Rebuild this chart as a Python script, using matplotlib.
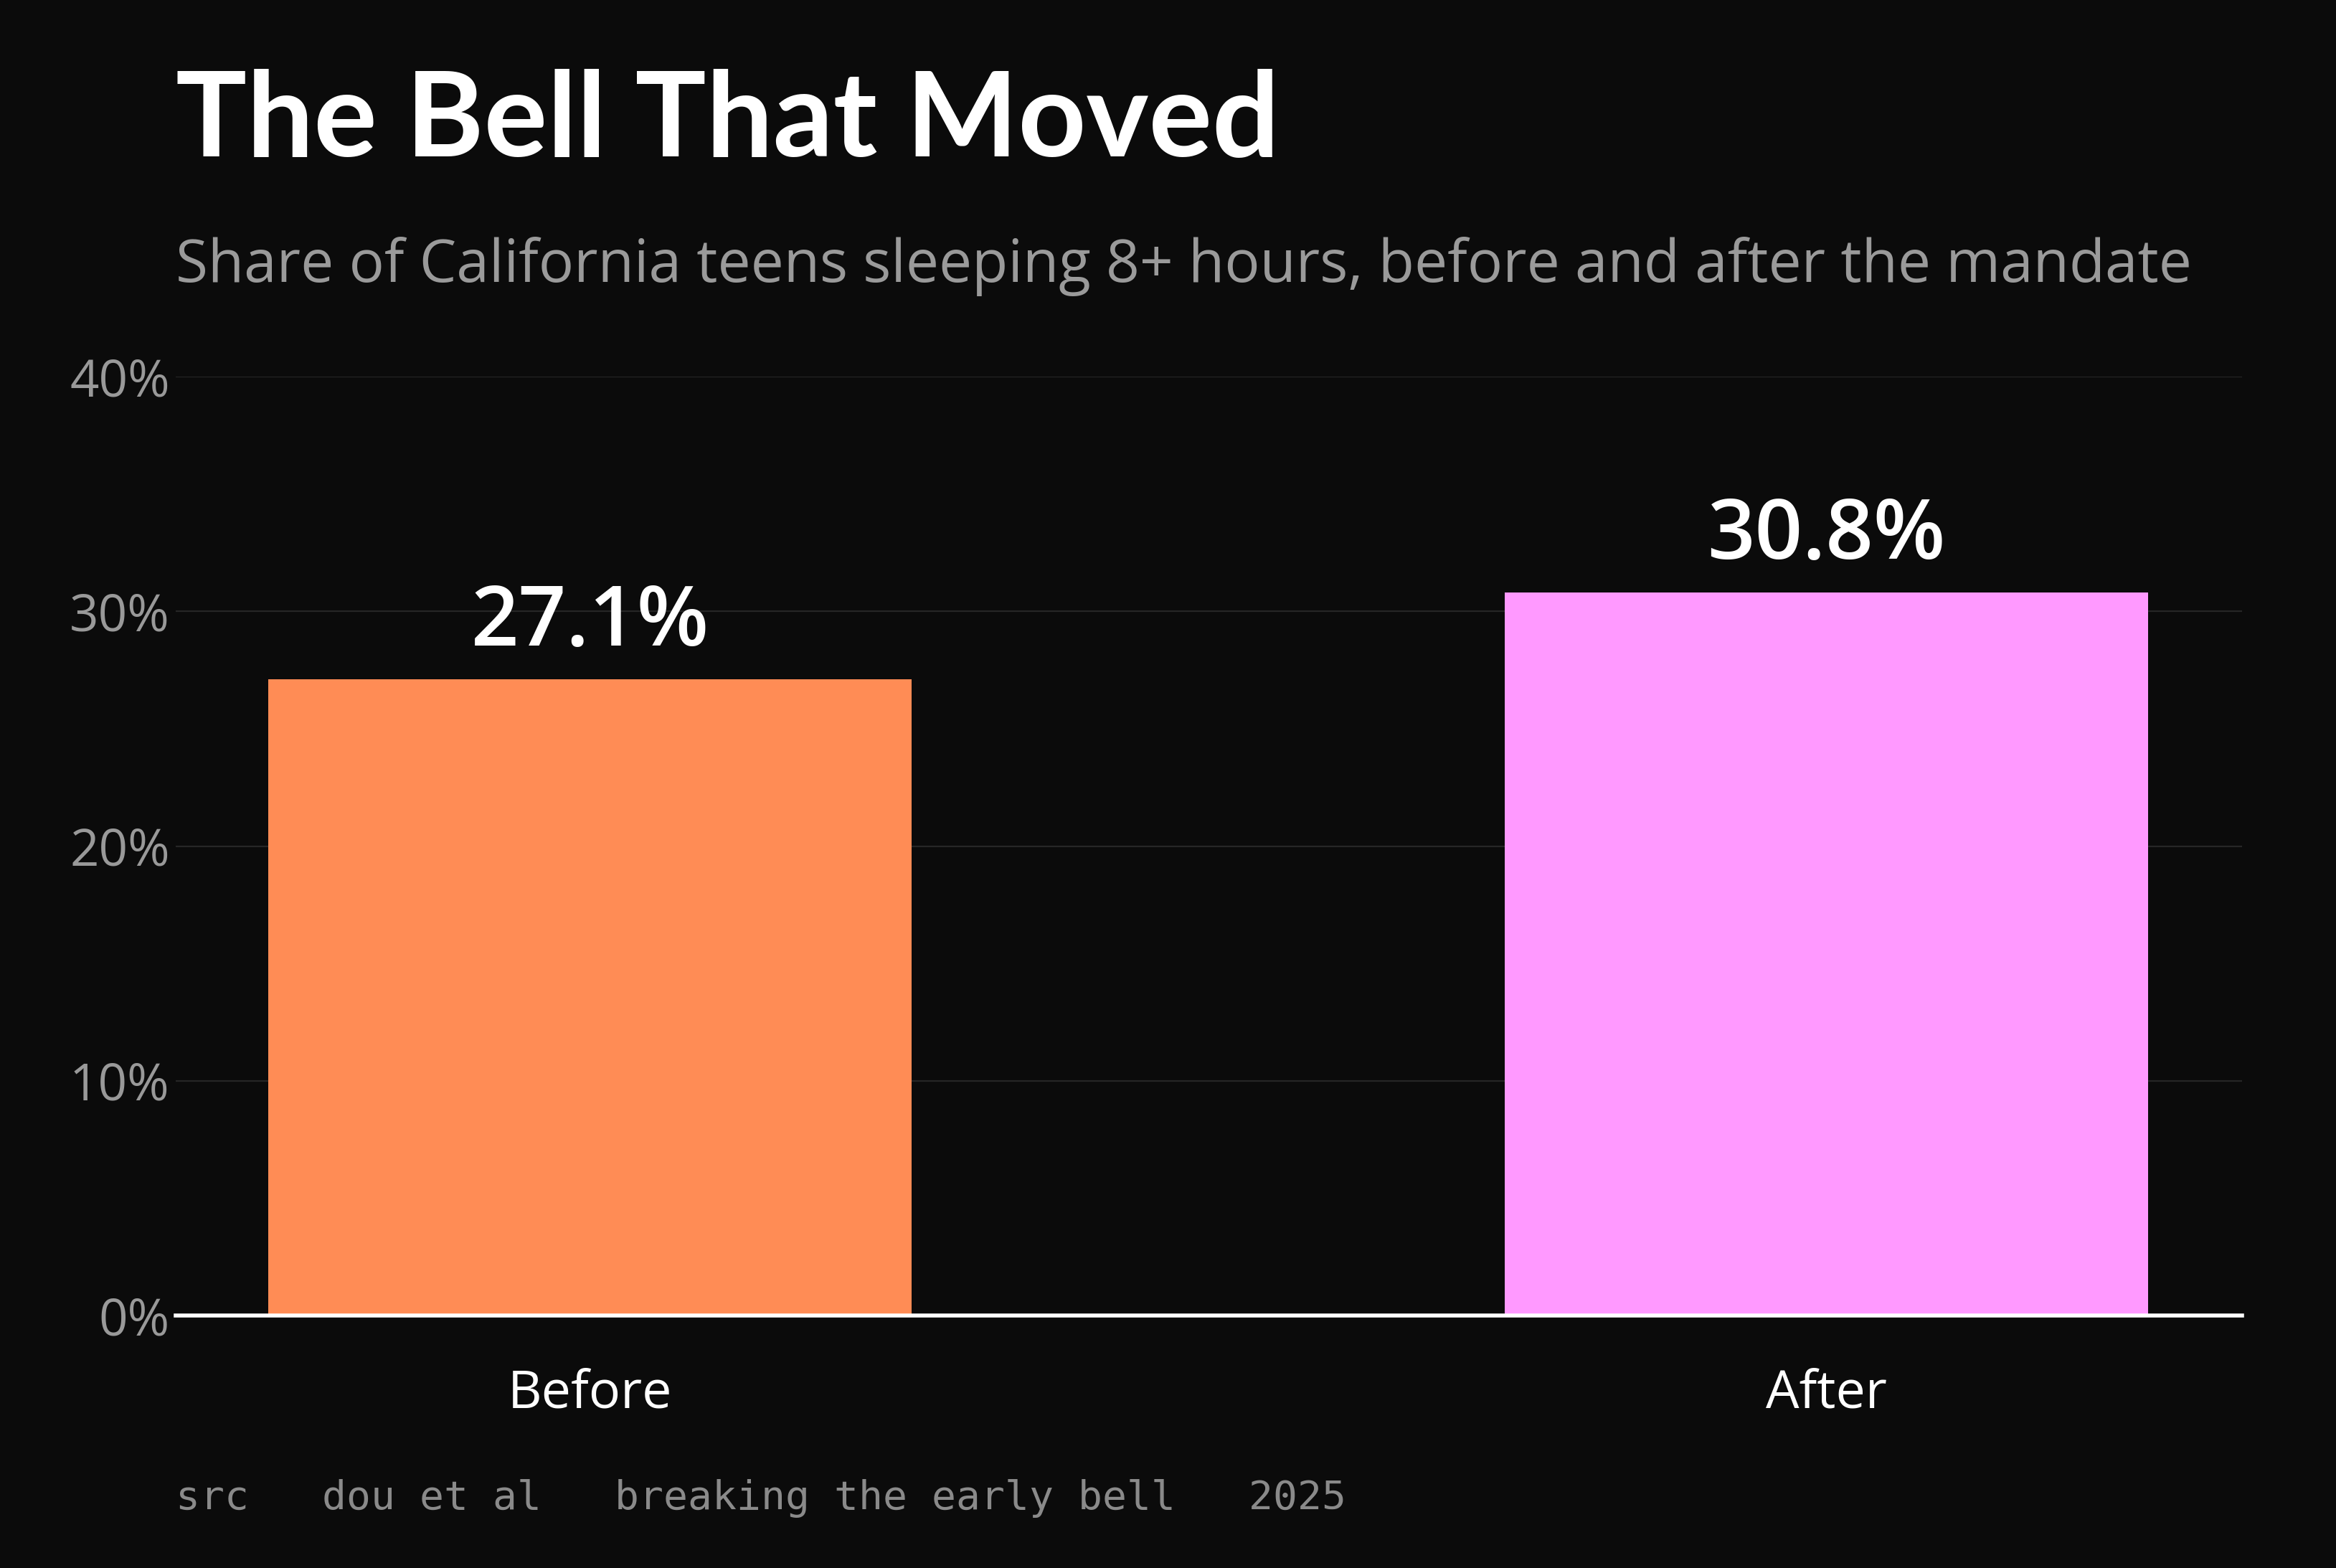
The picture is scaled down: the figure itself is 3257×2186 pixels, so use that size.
import matplotlib
matplotlib.use("Agg")
import matplotlib.pyplot as plt
from matplotlib.ticker import FuncFormatter

categories = ["Before", "After"]
values = [27.1, 30.8]
colors = ["#ff8c55", "#ff99ff"]
yticks = [0, 10, 20, 30, 40]

title = "The Bell That Moved"
subtitle = "Share of California teens sleeping 8+ hours, before and after the mandate"
footer = "src   dou et al   breaking the early bell   2025"

BG = "#0b0b0b"
W, H, DPI = 3257, 2186, 200

fig = plt.figure(figsize=(W / DPI, H / DPI), dpi=DPI, facecolor=BG)
ax = fig.add_axes([245 / W, 1 - 1834 / H, (3126 - 245) / W, (1834 - 525) / H])
ax.set_facecolor(BG)

x = list(range(len(categories)))
ax.bar(x, values, width=0.52, color=colors, zorder=3)
ax.set_xlim(-0.335, 1.336)
ax.set_ylim(0, 40)

ax.set_yticks(yticks)
ax.yaxis.set_major_formatter(FuncFormatter(lambda v, p: f"{v:.0f}%"))
ax.grid(axis="y", color="#262626", linewidth=0.8, zorder=0)
ax.set_axisbelow(True)
ax.tick_params(axis="y", length=0, pad=3, labelsize=25.5, labelcolor="#999999")
ax.tick_params(axis="x", length=0, pad=26, labelsize=26.5, labelcolor="#ffffff")
for lbl in ax.get_yticklabels():
    lbl.set_fontfamily("Open Sans")
ax.set_xticks(x)
ax.set_xticklabels(categories, fontfamily="Open Sans")

for s in ["top", "right", "left"]:
    ax.spines[s].set_visible(False)
ax.spines["bottom"].set_color("#ffffff")
ax.spines["bottom"].set_linewidth(2.0)
ax.spines["bottom"].set_zorder(4)

for xi, v in zip(x, values):
    ax.annotate(f"{v:.1f}%", xy=(xi, v), xytext=(0, 17), textcoords="offset points",
                ha="center", va="baseline", fontsize=42, fontweight="semibold",
                color="#ffffff", fontfamily="Open Sans")

fig.text(245 / W, 1 - 218 / H, title, fontsize=59.5, fontweight="bold",
         color="#ffffff", fontfamily="Lato", va="baseline", ha="left")
fig.text(245 / W, 1 - 393 / H, subtitle, fontsize=29.5, color="#9a9a9a",
         fontfamily="Open Sans", va="baseline", ha="left")
fig.text(245 / W, 1 - 2104 / H, footer, fontsize=20.3, color="#8a8a8a",
         fontfamily="DejaVu Sans Mono", va="baseline", ha="left")

fig.savefig("out.png", dpi=DPI, facecolor=BG)
